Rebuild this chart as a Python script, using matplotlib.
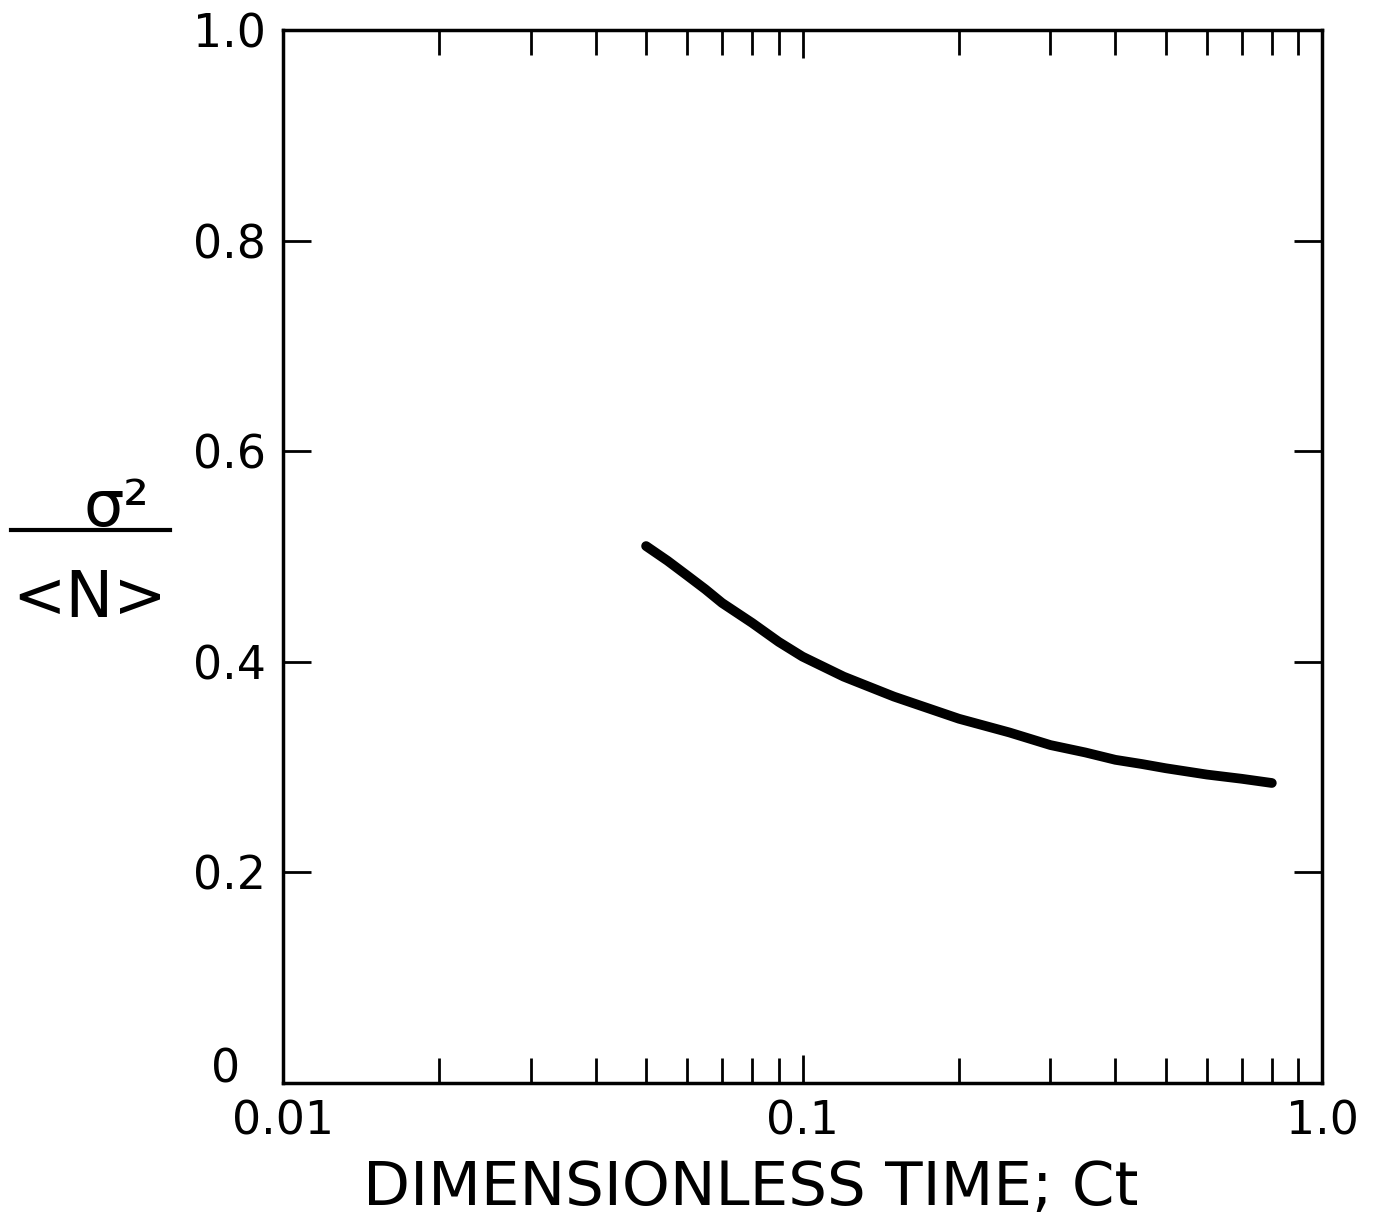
import matplotlib.pyplot as plt
from matplotlib.lines import Line2D
from matplotlib.ticker import FixedLocator, NullFormatter

# curve
ct = [0.05, 0.055, 0.06, 0.065, 0.07, 0.08, 0.09, 0.1, 0.12, 0.15, 0.2,
      0.25, 0.3, 0.35, 0.4, 0.45, 0.5, 0.6, 0.7, 0.8]
ratio = [0.51, 0.496, 0.482, 0.469, 0.456, 0.437, 0.419, 0.405, 0.386, 0.367,
         0.346, 0.333, 0.321, 0.314, 0.307, 0.303, 0.299, 0.293, 0.289, 0.285]

y_ticks = [0.2, 0.4, 0.6, 0.8, 1.0]
y_labels = ["0.2", "0.4", "0.6", "0.8", "1.0"]
x_ticks = [0.01, 0.1, 1.0]
x_labels = ["0.01", "0.1", "1.0"]
x_minor = [k * 0.01 for k in range(2, 10)] + [k * 0.1 for k in range(2, 10)]

plt.rcParams["font.family"] = ["DejaVu Sans"]

fig = plt.figure(figsize=(13.73, 12.28), dpi=100)
ax = fig.add_axes([0.206, 0.118, 0.757, 0.8575])

ax.plot(ct, ratio, color="black", lw=7, solid_capstyle="round",
        solid_joinstyle="round")

ax.set_xscale("log")
ax.set_xlim(0.01, 1.0)
ax.set_ylim(0, 1.0)

ax.xaxis.set_major_locator(FixedLocator(x_ticks))
ax.set_xticklabels(x_labels)
ax.xaxis.set_minor_locator(FixedLocator(x_minor))
ax.xaxis.set_minor_formatter(NullFormatter())
ax.set_yticks(y_ticks)
ax.set_yticklabels(y_labels)

ax.tick_params(which="both", direction="in", top=True, right=True,
               width=2, labelsize=33)
ax.tick_params(which="major", length=20, pad=12)
ax.tick_params(which="minor", length=18)
for s in ax.spines.values():
    s.set_linewidth(2.5)

# the "0" sits just off the corner
ax.text(-0.055, 0.012, "0", transform=ax.transAxes, fontsize=33,
        ha="center", va="center")

ax.set_xlabel("DIMENSIONLESS TIME; Ct", fontsize=44)
ax.xaxis.set_label_coords(0.45, -0.072)

# y label drawn as a stacked fraction
fig.text(0.085, 0.586, "σ²", fontsize=46, ha="center", va="center")
fig.add_artist(Line2D([0.008, 0.124], [0.568, 0.568], color="black", lw=3,
                      transform=fig.transFigure))
fig.text(0.065, 0.512, "<N>", fontsize=46, ha="center", va="center")

fig.savefig("out.png", dpi=100)
